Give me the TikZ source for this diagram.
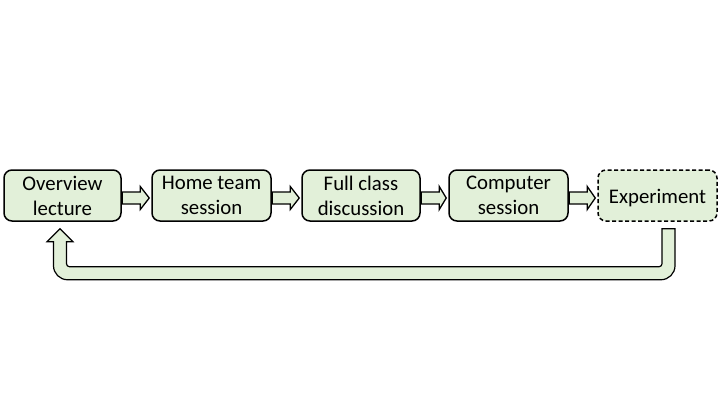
\documentclass[tikz,border=0pt]{standalone}
\usepackage{fontspec}
\setmainfont{Carlito}
\usetikzlibrary{calc}
\definecolor{boxfill}{HTML}{E2F0D9}
\tikzset{
  stage/.style={draw=black, fill=boxfill, line width=1.5pt, rounded corners=8pt,
    minimum height=51pt, align=center, inner sep=2pt,
    font=\fontsize{20.8pt}{25pt}\selectfont},
  blk/.style={draw=black, fill=boxfill, line width=1.3pt, line join=miter},
  ret/.style={draw=black, fill=boxfill, line width=1.2pt, line join=miter}
}
\begin{document}
\begin{tikzpicture}[x=1pt,y=-1pt]
\useasboundingbox (0,0) rectangle (720,405);
\node[stage, minimum width=117pt] (ov) at (62.5,195.5) {Overview\\lecture};
\node[stage, minimum width=119pt] (ht) at (211.5,195.5) {Home team\\session};
\node[stage, minimum width=118pt] (fc) at (361,195.5) {Full class\\discussion};
\node[stage, minimum width=119pt] (cs) at (508.5,195.5) {Computer\\session};
\node[stage, minimum width=119pt, dash pattern=on 4pt off 2.5pt] (ex) at (657.5,195.5) {\raisebox{-3pt}[\height][\depth]{Experiment}};

\foreach \a/\b in {ov/ht, ht/fc, fc/cs, cs/ex}{
  \draw[blk] let \p1=(\a.east), \p2=(\b.west) in
    (\x1+0.5pt,\y1-2.5pt+6pt) -- (\x1+18.5pt,\y1-2.5pt+6pt) -- (\x1+18.5pt,\y1-2.5pt+11.5pt)
    -- (\x2-2pt,\y1-2.5pt) -- (\x1+18.5pt,\y1-2.5pt-11.5pt) -- (\x1+18.5pt,\y1-2.5pt-6pt)
    -- (\x1+0.5pt,\y1-2.5pt-6pt) -- cycle;
}

\coordinate (rs) at ($(ex.south)+(11,7)$);
\coordinate (lt) at ($(ov.south)+(-2.5,7)$);
\draw[ret] let \p1=(rs), \p2=(lt) in
  (\x1-6.5pt,\y1) -- (\x1-6.5pt,\y1-35pt)
  .. controls (\x1-6.5pt,\y1-36.66pt) and (\x1-7.84pt,\y1-38pt) .. (\x1-9.5pt,\y1-38pt)
  -- (\x2+9.5pt,\y1-38pt)
  .. controls (\x2+7.84pt,\y1-38pt) and (\x2+6.5pt,\y1-36.66pt) .. (\x2+6.5pt,\y1-35pt)
  -- (\x2+6.5pt,\y2-13pt) -- (\x2+13pt,\y2-13pt) -- (\x2,\y2) -- (\x2-13pt,\y2-13pt)
  -- (\x2-6.5pt,\y2-13pt) -- (\x2-6.5pt,\y1-37pt)
  .. controls (\x2-6.5pt,\y1-44.7pt) and (\x2-0.2pt,\y1-51pt) .. (\x2+7.5pt,\y1-51pt)
  -- (\x1-7.5pt,\y1-51pt)
  .. controls (\x1+0.2pt,\y1-51pt) and (\x1+6.5pt,\y1-44.7pt) .. (\x1+6.5pt,\y1-37pt)
  -- (\x1+6.5pt,\y1) -- cycle;
\end{tikzpicture}
\end{document}
